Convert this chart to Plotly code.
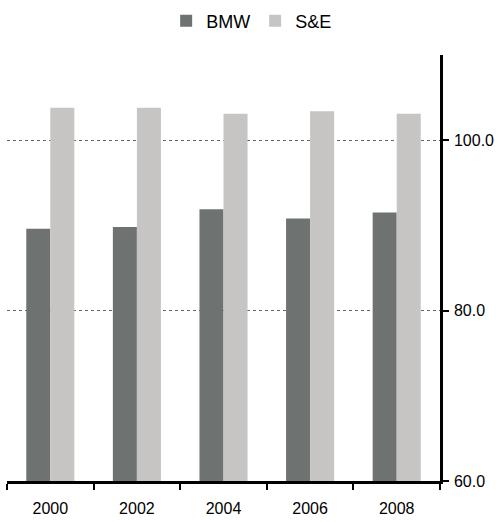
import plotly.graph_objects as go

years = ["2000", "2002", "2004", "2006", "2008"]
bmw = [89.6, 89.8, 91.9, 90.8, 91.5]
se = [103.8, 103.8, 103.1, 103.4, 103.1]
y_ticks = [60, 80, 100]

fig = go.Figure()
fig.add_trace(go.Bar(x=years, y=bmw, name="BMW", marker=dict(color="#6e7271", line=dict(width=0))))
fig.add_trace(go.Bar(x=years, y=se, name="S&E", marker=dict(color="#c6c5c3", line=dict(width=0))))

fig.update_layout(
    width=499, height=522,
    margin=dict(l=7, r=59, t=55, b=41),
    paper_bgcolor="white", plot_bgcolor="white",
    barmode="group", bargap=0.445, bargroupgap=0,
    font=dict(family="Liberation Sans, Arial, sans-serif", size=16, color="black"),
    showlegend=True,
    legend=dict(orientation="h", x=0.565, xanchor="center", y=0.995, yanchor="top",
                yref="container", font=dict(size=18), itemwidth=30, tracegroupgap=0),
)
fig.update_xaxes(
    type="category", showline=True, linecolor="black", linewidth=2.5,
    ticks="outside", tickson="boundaries", ticklen=6, tickwidth=2, tickcolor="black",
    ticklabelstandoff=11, automargin=False,
    showgrid=False, zeroline=False,
)
fig.update_yaxes(
    side="right", range=[60, 110], tickvals=y_ticks, tickformat=".1f",
    showline=True, linecolor="black", linewidth=2.5,
    ticks="outside", ticklen=6, tickwidth=2, tickcolor="black",
    ticklabelstandoff=2, automargin=False,
    showgrid=True, gridcolor="#666666", griddash="dot", gridwidth=1,
    zeroline=False,
)
fig.write_html("out.html", config={"displayModeBar": False},
               post_script="document.body.style.margin='0';")
